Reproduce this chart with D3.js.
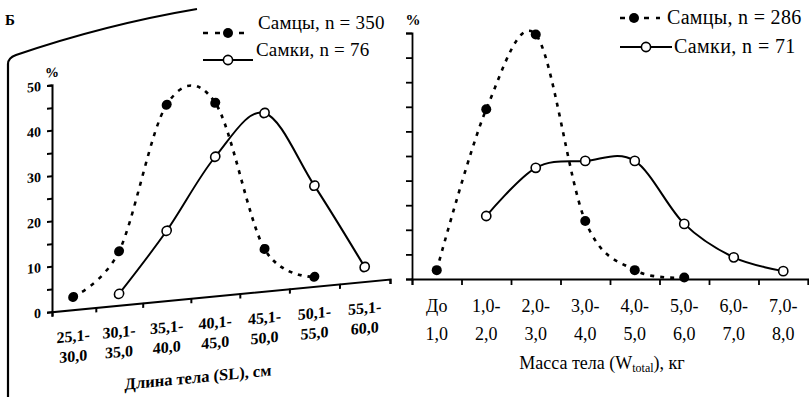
<!DOCTYPE html>
<html>
<head>
<meta charset="utf-8">
<script src="https://cdn.jsdelivr.net/npm/d3@7"></script>
<style>
  body { margin: 0; background: #fff; }
  svg { display: block; }
  svg text { font-family: "Liberation Serif", "Times New Roman", serif; }
</style>
</head>
<body>
<div id="chart"></div>
<script>
// Б — длина тела (SL), %
const lenCats = [["25,1-", "30,0"], ["30,1-", "35,0"], ["35,1-", "40,0"], ["40,1-", "45,0"],
                 ["45,1-", "50,0"], ["50,1-", "55,0"], ["55,1-", "60,0"]];
const lenMales = [2.8, 11.9, 43.2, 42.6, 9.3, 2.1, null];
const lenFemales = [null, 2.5, 15.4, 30.7, 39.3, 22.2, 3.2];
const lenTicks = [0, 10, 20, 30, 40, 50];

// масса тела (W total), %
const massCats = [["До", "1,0"], ["1,0-", "2,0"], ["2,0-", "3,0"], ["3,0-", "4,0"],
                  ["4,0-", "5,0"], ["5,0-", "6,0"], ["6,0-", "7,0"], ["7,0-", "8,0"]];
const massMales = [1.8, 34.5, 49.7, 11.8, 1.8, 0.3, null, null];
const massFemales = [null, 12.8, 22.6, 24, 24, 11.2, 4.4, 1.6];

const legendLen = ["Самцы, n = 350", "Самки, n = 76"];
const legendMass = ["Самцы, n = 286", "Самки, n = 71"];

const W = 809, H = 397;
const svg = d3.select("#chart").append("svg").attr("width", W).attr("height", H);

const toPts = arr => arr.map((v, i) => ({ i, v })).filter(d => d.v != null);
const curve = d3.curveCatmullRom.alpha(0);

function drawSeries(g, x, y, males, females) {
  const line = d3.line().x(d => x(d.i + 0.5)).y(d => y(d.v)).curve(curve);
  g.append("path").datum(toPts(males))
    .attr("fill", "none").attr("stroke", "#000").attr("stroke-width", 2.6)
    .attr("stroke-dasharray", "4,6").attr("d", line);
  g.append("path").datum(toPts(females))
    .attr("fill", "none").attr("stroke", "#000").attr("stroke-width", 2).attr("d", line);
  g.selectAll(".m").data(toPts(males)).enter().append("circle")
    .attr("cx", d => x(d.i + 0.5)).attr("cy", d => y(d.v)).attr("r", 5).attr("fill", "#000");
  g.selectAll(".f").data(toPts(females)).enter().append("circle")
    .attr("cx", d => x(d.i + 0.5)).attr("cy", d => y(d.v)).attr("r", 4.6)
    .attr("fill", "#fff").attr("stroke", "#000").attr("stroke-width", 1.6);
}

// one legend row: line from x0 to x1, marker at xm, text at tx
function legendRow(x0, x1, xm, y, ty, tx, text, filled, size, spacing) {
  const g = svg.append("g");
  g.append("line").attr("x1", x0).attr("x2", x1).attr("y1", y).attr("y2", y)
    .attr("stroke", "#000").attr("stroke-width", filled ? 2.6 : 2)
    .attr("stroke-dasharray", filled ? "5,7" : null);
  g.append("circle").attr("cx", xm).attr("cy", y).attr("r", filled ? 5 : 4.6)
    .attr("fill", filled ? "#000" : "#fff").attr("stroke", "#000").attr("stroke-width", filled ? 0 : 1.6);
  g.append("text").attr("x", tx).attr("y", ty).attr("font-size", size)
    .attr("letter-spacing", spacing).text(text);
}

// page edge from the scan
svg.append("path")
  .attr("d", "M8,397V64Q8,58,16,55C60,40,120,22,197,9")
  .attr("fill", "none").attr("stroke", "#000").attr("stroke-width", 2.2);
svg.append("text").attr("x", 5).attr("y", 25).attr("font-size", 15).attr("font-weight", "bold").text("Б");

// ---- left panel (skewed like the scan) ----
const g1 = svg.append("g").attr("transform", "translate(52,85) skewY(-5.52)");
const x1 = d3.scalePow().exponent(1.05).domain([0, 7]).range([0, 338]);
const y1 = d3.scaleLinear().domain([0, 50]).range([226.7, 0]);

g1.append("g")
  .call(d3.axisLeft(y1).tickValues(d3.range(0, 55, 5)).tickSize(5).tickPadding(6)
    .tickFormat(d => lenTicks.includes(d) ? d : ""))
  .call(a => a.selectAll("path,line").attr("stroke", "#000").attr("stroke-width", 2))
  .call(a => a.selectAll("text").attr("font-size", 14).attr("font-weight", "bold").attr("fill", "#000"));

g1.append("g").attr("transform", `translate(0,${y1(0)})`)
  .call(d3.axisBottom(x1).tickValues(d3.range(0, 8)).tickSize(5).tickFormat(""))
  .call(a => a.selectAll("path,line").attr("stroke", "#000").attr("stroke-width", 2));

g1.append("text").attr("x", 0).attr("y", -8).attr("text-anchor", "middle")
  .attr("font-size", 14).attr("font-weight", "bold").text("%");

const lab1 = g1.selectAll(".lab").data(lenCats).enter().append("text")
  .attr("text-anchor", "middle").attr("font-size", 16).attr("font-weight", "bold");
lab1.append("tspan").attr("x", (d, i) => x1(i + 0.5)).attr("y", y1(0) + 32).text(d => d[0]);
lab1.append("tspan").attr("x", (d, i) => x1(i + 0.5)).attr("y", y1(0) + 52).text(d => d[1]);

g1.append("text").attr("x", 146).attr("y", y1(0) + 85).attr("text-anchor", "middle")
  .attr("font-size", 16.5).attr("font-weight", "bold").text("Длина тела (SL), см");

drawSeries(g1, x1, y1, lenMales, lenFemales);
legendRow(203, 250, 228, 33, 29, 258, legendLen[0], true, 19, 0.2);
legendRow(203, 253, 228, 60, 56, 256, legendLen[1], false, 19, 0.2);

// ---- right panel ----
const g2 = svg.append("g").attr("transform", "translate(412,33)");
const x2 = d3.scaleLinear().domain([0, 8]).range([0, 396]);
const y2 = d3.scaleLinear().domain([0, 50]).range([246, 0]);

g2.append("g")
  .call(d3.axisLeft(y2).tickValues(d3.range(0, 55, 5)).tickSize(6).tickFormat(""))
  .call(a => a.selectAll("path,line").attr("stroke", "#000").attr("stroke-width", 1.8));
g2.append("g").attr("transform", `translate(0,${y2(0)})`)
  .call(d3.axisBottom(x2).tickValues(d3.range(0, 9)).tickSize(6).tickFormat(""))
  .call(a => a.selectAll("path,line").attr("stroke", "#000").attr("stroke-width", 1.8));

g2.append("text").attr("x", 1).attr("y", -8).attr("text-anchor", "middle")
  .attr("font-size", 15).attr("font-weight", "bold").text("%");

const lab2 = g2.selectAll(".lab").data(massCats).enter().append("text")
  .attr("text-anchor", "middle").attr("font-size", 18);
lab2.append("tspan").attr("x", (d, i) => x2(i + 0.5)).attr("y", y2(0) + 33).text(d => d[0]);
lab2.append("tspan").attr("x", (d, i) => x2(i + 0.5)).attr("y", y2(0) + 61).text(d => d[1]);

const t2 = g2.append("text").attr("x", 190).attr("y", y2(0) + 90).attr("text-anchor", "middle")
  .attr("font-size", 18);
t2.append("tspan").text("Масса тела (W");
t2.append("tspan").attr("font-size", 12).attr("dy", 3).text("total");
t2.append("tspan").attr("dy", -3).text("), кг");

drawSeries(g2, x2, y2, massMales, massFemales);
legendRow(620, 660, 634, 18, 24, 667, legendMass[0], true, 20, 0.3);
legendRow(620, 672, 646, 47, 53, 674, legendMass[1], false, 20, 0.4);
</script>
</body>
</html>
